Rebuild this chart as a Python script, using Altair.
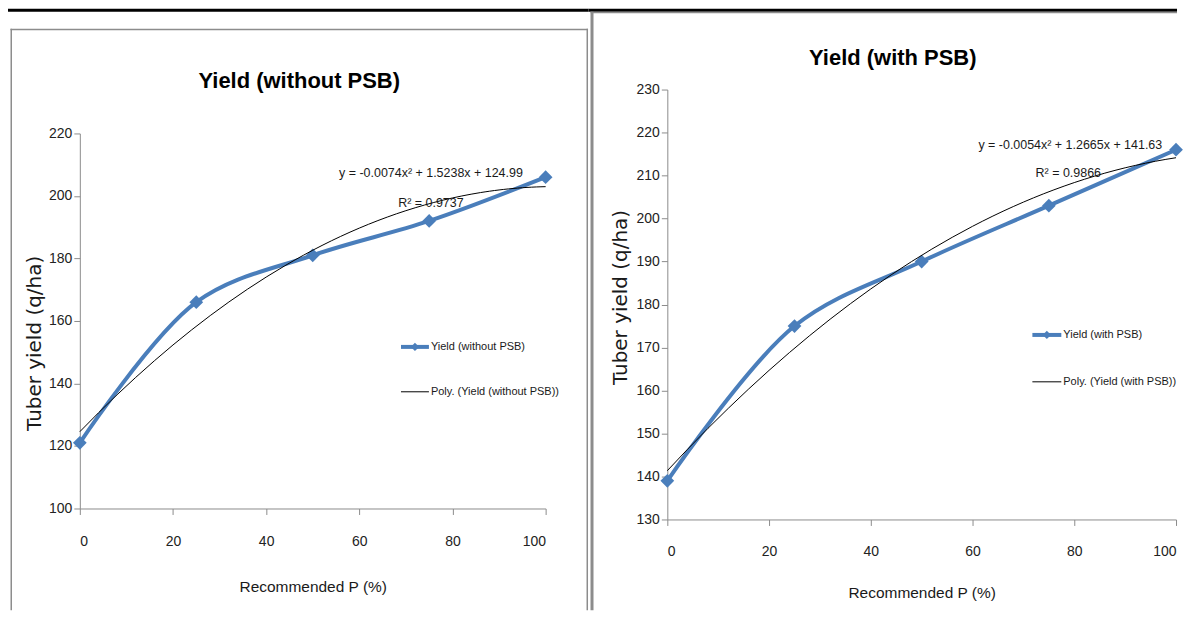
import altair as alt
import pandas as pd

# ---- data ----
p_levels = [0, 25, 50, 75, 100]
yield_without_psb = [121, 166, 181, 192, 206]
yield_with_psb = [139, 175, 190, 203, 216]

panel_titles = ["Yield (without PSB)", "Yield (with PSB)"]
series_names = ["Yield (without PSB)", "Yield (with PSB)"]
trend_names = ["Poly. (Yield (without PSB))", "Poly. (Yield (with PSB))"]
equations = ["y = -0.0074x² + 1.5238x + 124.99", "y = -0.0054x² + 1.2665x + 141.63"]
r_squared = ["R² = 0.9737", "R² = 0.9866"]
x_ticks = [0, 20, 40, 60, 80, 100]
y_ticks_without = [100, 120, 140, 160, 180, 200, 220]
y_ticks_with = [130, 140, 150, 160, 170, 180, 190, 200, 210, 220, 230]
x_title = "Recommended P (%)"
y_title = "Tuber yield (q/ha)"

BLUE = "#4A7EBB"
FONT = "Liberation Sans"
one = pd.DataFrame({"k": [0]})


def deco_box(x1, x2, y1, y2, color):
    # filled rectangle used for frame lines (exact bounds, no stroke)
    return alt.Chart(one).mark_rect(color=color, strokeWidth=0).encode(
        x=alt.value(x1), x2=alt.value(x2), y=alt.value(y1), y2=alt.value(y2)
    )


def deco_rule(x1, x2, y1, y2, color, width):
    return alt.Chart(one).mark_rule(color=color, strokeWidth=width).encode(
        x=alt.value(x1), x2=alt.value(x2), y=alt.value(y1), y2=alt.value(y2)
    )


def deco_text(txt, x, y, size, bold=False, align="center", color="#1a1a1a"):
    return alt.Chart(one).mark_text(
        text=txt, font=FONT, fontSize=size, fontWeight="bold" if bold else "normal",
        align=align, baseline="middle", color=color
    ).encode(x=alt.value(x), y=alt.value(y))


def panel(i, values, ydom, yticks, width, height, yrange, L):
    df = pd.DataFrame({"P": p_levels, "Yield": values})
    xenc = alt.X(
        "P:Q",
        scale=alt.Scale(domain=[0, 100], nice=False, zero=False),
        axis=alt.Axis(values=x_ticks, title=x_title, titleY=L["xtitle_y"], titleBaseline="middle",
                      labelPadding=L["xlabel_pad"], labelBaseline="middle"),
    )
    yenc = alt.Y(
        "Yield:Q",
        scale=alt.Scale(domain=ydom, range=yrange, nice=False, zero=False),
        axis=alt.Axis(values=yticks, title=y_title, titleX=L["ytitle_x"], titleY=L["ytitle_y"],
                      titleAngle=270, titleBaseline="middle", titleAlign="center"),
    )
    base = alt.Chart(df)
    line = base.mark_line(interpolate="catmull-rom", color=BLUE, strokeWidth=4).encode(x=xenc, y=yenc)
    pts = base.mark_point(shape="diamond", filled=True, color=BLUE, size=190, opacity=1).encode(x=xenc, y=yenc)
    trend = base.transform_regression(
        "P", "Yield", method="poly", order=2, extent=[0, 100]
    ).mark_line(color="black", strokeWidth=1).encode(x=xenc, y=yenc)

    GREY = "#8c8c8c"
    layers = [deco_box(L["bx1"], L["bx2"], -81, -78, "black")]
    bl, br, bt, bw = L["border_l"], L["border_r"], L["border_t"], L["border_w"]
    layers.append(deco_box(bl, bl + bw, bt, 522, GREY))
    layers.append(deco_box(bl, br, bt, bt + 1.5, GREY))
    if L.get("border_r_line"):
        layers.append(deco_box(br - 1.5, br, bt, 522, GREY))
    layers += [line, pts, trend]
    layers.append(deco_text(panel_titles[i], L["title_x"], L["title_y"], 22, bold=True, color="black"))
    layers.append(deco_text(equations[i], L["eq_x"], L["eq_y"], 12.5))
    layers.append(deco_text(r_squared[i], L["r2_x"], L["r2_y"], 12.5))
    # legend
    lx1, lx2 = L["leg_x1"], L["leg_x2"]
    layers.append(deco_rule(lx1, lx2, L["leg_y1"], L["leg_y1"], BLUE, 4))
    layers.append(
        alt.Chart(one).mark_point(shape="diamond", filled=True, color=BLUE, size=70, opacity=1).encode(
            x=alt.value((lx1 + lx2) / 2), y=alt.value(L["leg_y1"])
        )
    )
    layers.append(deco_rule(lx1, lx2, L["leg_y2"], L["leg_y2"], "black", 1))
    layers.append(deco_text(series_names[i], lx2 + 2, L["leg_y1"], 11, align="left"))
    layers.append(deco_text(trend_names[i], lx2 + 2, L["leg_y2"], 11, align="left"))

    return alt.layer(*layers).properties(width=width, height=height)


left_layout = dict(
    bx1=-72, bx2=510, border_l=-69.5, border_r=509.5, border_t=-61, border_w=1.5, border_r_line=True,
    title_x=220, title_y=-9, eq_x=352, eq_y=84, r2_x=352, r2_y=114,
    leg_x1=322, leg_x2=350, leg_y1=258, leg_y2=303,
    xtitle_y=78, xlabel_pad=27, ytitle_x=-45, ytitle_y=254,
)
right_layout = dict(
    bx1=-79, bx2=511, border_l=-77, border_r=511, border_t=-78, border_w=3, border_r_line=False,
    title_x=226, title_y=-32, eq_x=404, eq_y=56, r2_x=402, r2_y=84,
    leg_x1=366, leg_x2=395, leg_y1=246, leg_y2=293,
    xtitle_y=73, xlabel_pad=26, ytitle_x=-47, ytitle_y=208,
)

left = panel(0, yield_without_psb, [100, 220], y_ticks_without, 467, 420, [420, 44], left_layout)
right = panel(1, yield_with_psb, [130, 230], y_ticks_with, 510, 431, [431, 0], right_layout)

chart = (
    alt.hconcat(left, right, spacing=0)
    .properties(padding=0)
    .configure_view(stroke=None)
    .configure_axis(
        grid=False,
        domainColor="#8c8c8c",
        tickColor="#8c8c8c",
        tickSize=6,
        labelFont=FONT,
        labelFontSize=14,
        labelColor="#222222",
        titleFont="DejaVu Sans",
        titleFontSize=20,
        titleFontWeight="normal",
        titleColor="#1a1a1a",
    )
    .configure_axisX(titleFont=FONT, titleFontSize=15.5)
)

chart.save("out.html", embed_options={"renderer": "svg", "actions": False})
